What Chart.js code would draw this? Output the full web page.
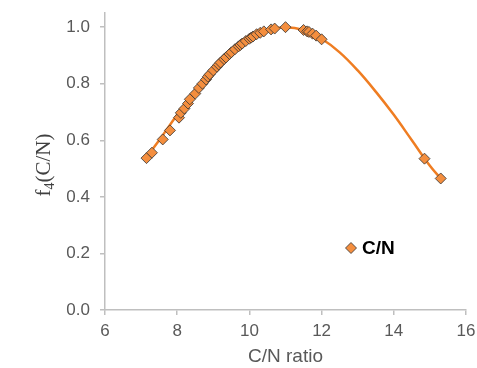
<!DOCTYPE html>
<html>
<head>
<meta charset="utf-8">
<script src="https://cdn.jsdelivr.net/npm/chart.js@4/dist/chart.umd.min.js"></script>
<style>
  html, body { margin: 0; padding: 0; background: #fff; }
  #wrap { width: 477px; height: 368px; }
</style>
</head>
<body>
<div id="wrap"><canvas id="c" width="477" height="368"></canvas></div>
<script>
// Observed points (C/N ratio vs f4)
const markerX = [7.15, 7.3, 7.6, 7.8, 8.05, 8.1, 8.2, 8.3, 8.35, 8.5, 8.6, 8.7, 8.8, 8.85, 8.9,
  9.0, 9.1, 9.15, 9.2, 9.3, 9.35, 9.45, 9.5, 9.6, 9.7, 9.75, 9.8, 9.9, 10.0, 10.05,
  10.1, 10.2, 10.3, 10.4, 10.6, 10.7, 11.0, 11.5, 11.6, 11.65, 11.75, 11.85, 12.0, 14.85, 15.3];
const markerY = [0.537, 0.556, 0.603, 0.635, 0.68, 0.697, 0.712, 0.73, 0.745, 0.765, 0.785, 0.8, 0.815, 0.825, 0.833,
  0.847, 0.86, 0.868, 0.875, 0.887, 0.893, 0.905, 0.911, 0.922, 0.932, 0.937, 0.942, 0.951, 0.959, 0.963,
  0.967, 0.975, 0.98, 0.985, 0.992, 0.995, 1.0, 0.99, 0.985, 0.983, 0.977, 0.97, 0.957, 0.535, 0.465];

// Fitted curve
const curveX = [7.15, 7.5, 8.0, 8.5, 9.0, 9.5, 10.0, 10.5, 11.0, 11.5, 12.0, 12.5, 13.0, 13.5, 14.0, 14.5, 15.0, 15.3];
const curveY = [0.54, 0.6, 0.69, 0.772, 0.847, 0.911, 0.959, 0.99, 1.0, 0.99, 0.959, 0.911, 0.847, 0.772, 0.69, 0.6, 0.51, 0.465];

const xTicks = [6, 8, 10, 12, 14, 16];
const yTicks = [0, 0.2, 0.4, 0.6, 0.8, 1.0];

const seriesName = 'C/N';
const xTitle = 'C/N ratio';

const orange = '#f48e3e';
const lineOrange = '#ef7d22';
const axisGray = '#bfbfbf';
const tickColor = '#595959';

// y title with subscript + legend inside plot
const overlay = {
  id: 'overlay',
  afterDraw(chart) {
    const ctx = chart.ctx;
    // y axis title f4(C/N)
    ctx.save();
    ctx.translate(50, 165);
    ctx.rotate(-Math.PI / 2);
    ctx.fillStyle = '#404040';
    ctx.textBaseline = 'alphabetic';
    const big = '21px "Liberation Serif", "Times New Roman", serif';
    const small = '14px "Liberation Serif", "Times New Roman", serif';
    ctx.font = big;
    const wF = ctx.measureText('f').width;
    const wR = ctx.measureText('(C/N)').width;
    ctx.font = small;
    const w4 = ctx.measureText('4').width;
    let x = -(wF + w4 + wR) / 2;
    ctx.font = big;
    ctx.fillText('f', x, 0);
    x += wF;
    ctx.font = small;
    ctx.fillText('4', x, 4);
    x += w4;
    ctx.font = big;
    ctx.fillText('(C/N)', x, 0);
    ctx.restore();

    // legend
    ctx.save();
    ctx.fillStyle = orange;
    ctx.strokeStyle = '#333';
    ctx.lineWidth = 0.8;
    ctx.beginPath();
    ctx.moveTo(351, 242.5); ctx.lineTo(356.5, 248); ctx.lineTo(351, 253.5); ctx.lineTo(345.5, 248);
    ctx.closePath();
    ctx.fill(); ctx.stroke();
    ctx.fillStyle = '#000';
    ctx.font = 'bold 19px "Liberation Sans", Arial, sans-serif';
    ctx.textBaseline = 'middle';
    ctx.fillText(seriesName, 362, 249);
    ctx.restore();
  }
};

new Chart(document.getElementById('c'), {
  type: 'scatter',
  data: {
    datasets: [
      {
        label: seriesName,
        data: markerX.map((x, i) => ({ x, y: markerY[i] })),
        pointStyle: 'rectRot',
        pointRadius: 5.5,
        pointBackgroundColor: orange,
        pointBorderColor: '#333',
        pointBorderWidth: 0.8,
        showLine: false,
        order: 1,
      },
      {
        label: 'fit',
        data: curveX.map((x, i) => ({ x, y: curveY[i] })),
        showLine: true,
        borderColor: lineOrange,
        borderWidth: 2.5,
        pointRadius: 0,
        tension: 0.4,
        order: 2,
      }
    ]
  },
  options: {
    responsive: false,
    animation: false,
    events: [],
    layout: { padding: { left: 0, top: 13, right: 11, bottom: 0 } },
    plugins: { legend: { display: false }, tooltip: { enabled: false } },
    scales: {
      x: {
        type: 'linear',
        min: 6, max: 16,
        afterFit: (s) => { s.height = 58; s.paddingRight = 0; s.paddingLeft = 0; },
        afterBuildTicks: (s) => { s.ticks = xTicks.map(v => ({ value: v })); },
        border: { color: axisGray, width: 1.5 },
        grid: { display: true, drawOnChartArea: false, drawTicks: true, tickLength: 5, color: axisGray, lineWidth: 1.5 },
        ticks: { color: tickColor, font: { size: 17, family: '"Liberation Sans", Arial, sans-serif' }, padding: 6 },
        title: { display: true, text: xTitle, color: tickColor, font: { size: 19, family: '"Liberation Sans", Arial, sans-serif' }, padding: { top: 2, bottom: 0 } }
      },
      y: {
        type: 'linear',
        min: 0, max: 1.05,
        afterFit: (s) => { s.width = 105; s.paddingTop = 0; s.paddingBottom = 0; },
        afterBuildTicks: (s) => { s.ticks = yTicks.map(v => ({ value: v })); },
        border: { color: axisGray, width: 1.5 },
        grid: { display: true, drawOnChartArea: false, drawTicks: true, tickLength: 5, color: axisGray, lineWidth: 1.5 },
        ticks: { color: tickColor, font: { size: 17, family: '"Liberation Sans", Arial, sans-serif' }, padding: 10, callback: (v) => v.toFixed(1) }
      }
    }
  },
  plugins: [overlay]
});
</script>
</body>
</html>
